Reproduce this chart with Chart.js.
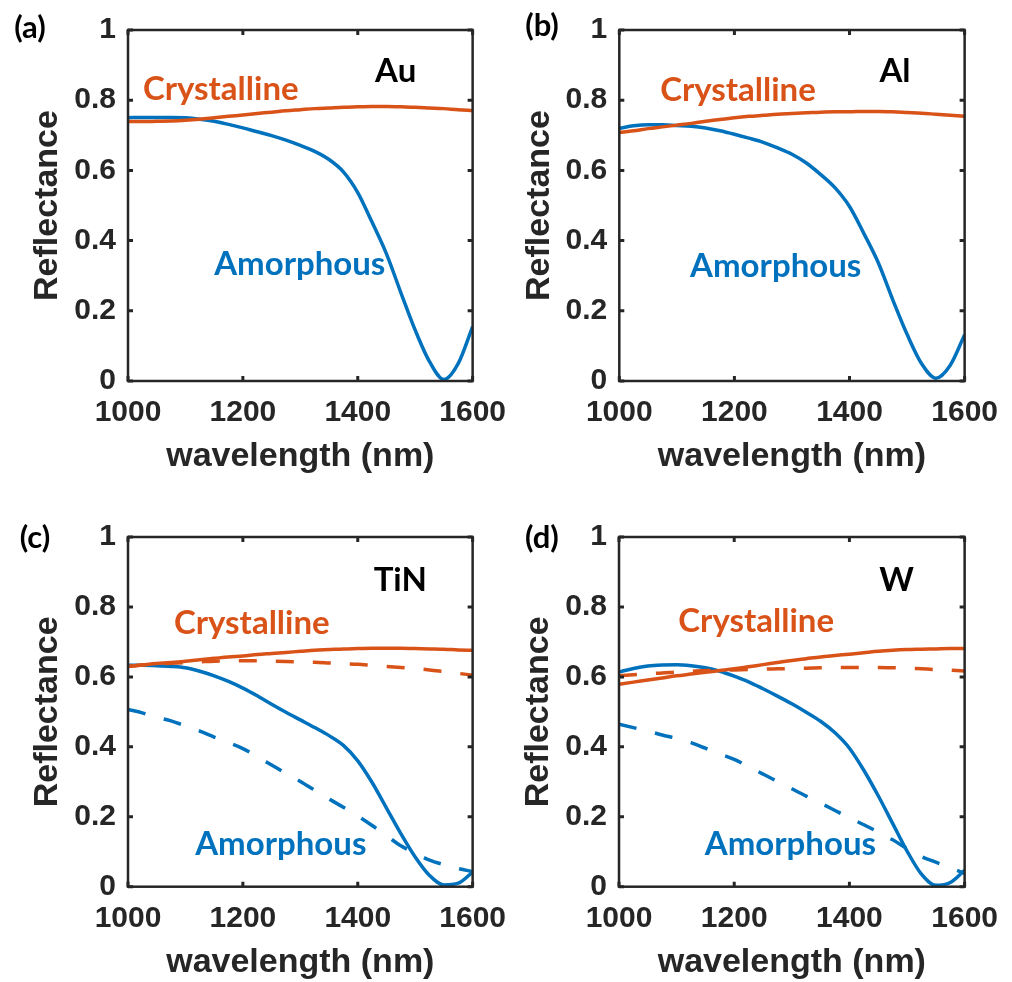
<!DOCTYPE html>
<html>
<head>
<meta charset="utf-8">
<script src="https://cdn.jsdelivr.net/npm/chart.js@4.4.1/dist/chart.umd.min.js"></script>
<style>
  body { margin: 0; background: #fff; width: 1012px; height: 982px; position: relative; overflow: hidden; }
  canvas { position: absolute; }
</style>
</head>
<body>
<canvas id="panelA" width="520" height="491" style="left:0px;top:0px"></canvas>
<canvas id="panelB" width="520" height="491" style="left:492px;top:0px"></canvas>
<canvas id="panelC" width="520" height="491" style="left:0px;top:507px"></canvas>
<canvas id="panelD" width="520" height="491" style="left:492px;top:507px"></canvas>
<script>
// wavelength grid, nm
let wavelength = [1000, 1025, 1050, 1075, 1100, 1125, 1150, 1175, 1200, 1225, 1250, 1275, 1300,
                  1325, 1350, 1375, 1400, 1425, 1450, 1475, 1500, 1525, 1550, 1575, 1600]

// reflectance, Au
let auAmorphous   = [0.750, 0.751, 0.751, 0.751, 0.750, 0.746, 0.740, 0.731, 0.721, 0.710, 0.699, 0.686, 0.671,
                     0.654, 0.631, 0.596, 0.537, 0.452, 0.362, 0.252, 0.145, 0.055, 0.004, 0.050, 0.155]
let auCrystalline = [0.739, 0.739, 0.740, 0.741, 0.743, 0.746, 0.750, 0.754, 0.758, 0.762, 0.766, 0.770, 0.773,
                     0.776, 0.778, 0.780, 0.781, 0.782, 0.782, 0.781, 0.780, 0.778, 0.776, 0.773, 0.771]

// reflectance, Al
let alAmorphous   = [0.720, 0.727, 0.730, 0.730, 0.728, 0.726, 0.721, 0.713, 0.703, 0.692, 0.680, 0.664, 0.646,
                     0.621, 0.588, 0.550, 0.497, 0.420, 0.337, 0.232, 0.133, 0.050, 0.008, 0.045, 0.132]
let alCrystalline = [0.708, 0.713, 0.719, 0.724, 0.729, 0.734, 0.740, 0.745, 0.750, 0.754, 0.757, 0.760, 0.762,
                     0.764, 0.766, 0.767, 0.767, 0.768, 0.768, 0.767, 0.765, 0.763, 0.760, 0.757, 0.754]

// reflectance, TiN (dashed = second set)
let tinAmorphous       = [0.633, 0.633, 0.632, 0.630, 0.626, 0.616, 0.603, 0.587, 0.568, 0.546, 0.522, 0.499, 0.477,
                          0.455, 0.432, 0.404, 0.360, 0.298, 0.225, 0.152, 0.085, 0.032, 0.005, 0.010, 0.042]
let tinAmorphousDash   = [0.507, 0.497, 0.485, 0.474, 0.460, 0.445, 0.428, 0.412, 0.395, 0.372, 0.348, 0.324, 0.301,
                          0.276, 0.251, 0.227, 0.202, 0.175, 0.146, 0.117, 0.096, 0.076, 0.063, 0.052, 0.043]
let tinCrystalline     = [0.630, 0.634, 0.638, 0.641, 0.645, 0.649, 0.653, 0.657, 0.660, 0.664, 0.667, 0.670, 0.673,
                          0.676, 0.678, 0.680, 0.681, 0.682, 0.682, 0.682, 0.681, 0.680, 0.679, 0.677, 0.676]
let tinCrystallineDash = [0.630, 0.634, 0.637, 0.639, 0.641, 0.643, 0.645, 0.646, 0.646, 0.646, 0.645, 0.644, 0.643,
                          0.642, 0.640, 0.638, 0.636, 0.633, 0.630, 0.627, 0.624, 0.620, 0.615, 0.610, 0.605]

// reflectance, W
let wAmorphous       = [0.614, 0.624, 0.631, 0.634, 0.635, 0.632, 0.626, 0.616, 0.602, 0.586, 0.566, 0.545, 0.523,
                        0.499, 0.473, 0.440, 0.396, 0.333, 0.260, 0.181, 0.102, 0.036, 0.004, 0.012, 0.047]
let wAmorphousDash   = [0.465, 0.455, 0.445, 0.434, 0.424, 0.412, 0.396, 0.380, 0.364, 0.343, 0.322, 0.301, 0.280,
                        0.259, 0.239, 0.218, 0.197, 0.177, 0.156, 0.134, 0.109, 0.086, 0.070, 0.054, 0.038]
let wCrystalline     = [0.579, 0.585, 0.591, 0.597, 0.603, 0.608, 0.613, 0.618, 0.623, 0.629, 0.635, 0.641, 0.647,
                        0.652, 0.657, 0.661, 0.665, 0.669, 0.673, 0.676, 0.678, 0.679, 0.680, 0.681, 0.681]
let wCrystallineDash = [0.603, 0.606, 0.609, 0.611, 0.614, 0.616, 0.618, 0.619, 0.620, 0.621, 0.622, 0.623, 0.624,
                        0.625, 0.626, 0.627, 0.627, 0.627, 0.627, 0.626, 0.625, 0.623, 0.621, 0.619, 0.617]

let xTicks = [1000, 1200, 1400, 1600]
let xTickLabels = ['1000', '1200', '1400', '1600']
let yTicks = [0, 0.2, 0.4, 0.6, 0.8, 1]
let yTickLabels = ['0', '0.2', '0.4', '0.6', '0.8', '1']

let blue = '#0072BD'
let orange = '#D95319'
let ink = '#262626'
let axisFont = 'Liberation Sans, Arial, sans-serif'
let noteFont = 'Lato, Calibri, sans-serif'

// box with inward ticks on all four sides
let frame = {
    id: 'frame',
    afterDatasetsDraw: function (chart) {
        let ctx = chart.ctx
        let a = chart.chartArea
        let x = chart.scales.x
        let y = chart.scales.y
        ctx.save()
        ctx.strokeStyle = ink
        ctx.lineWidth = 3
        ctx.beginPath()
        xTicks.forEach(function (v) {
            let px = x.getPixelForValue(v)
            ctx.moveTo(px, a.bottom); ctx.lineTo(px, a.bottom - 5)
            ctx.moveTo(px, a.top); ctx.lineTo(px, a.top + 5)
        })
        yTicks.forEach(function (v) {
            let py = y.getPixelForValue(v)
            ctx.moveTo(a.left, py); ctx.lineTo(a.left + 5, py)
            ctx.moveTo(a.right, py); ctx.lineTo(a.right - 5, py)
        })
        ctx.stroke()
        ctx.lineWidth = 2.5
        ctx.strokeRect(a.left, a.top, a.right - a.left, a.bottom - a.top)
        ctx.restore()
    }
}

let makePanel = function (id, box, tag, series, notes) {
    let canvas = document.getElementById(id)
    let W = canvas.width
    let H = canvas.height

    let labels = {
        id: 'labels',
        afterDraw: function (chart) {
            let ctx = chart.ctx
            let x = chart.scales.x
            let y = chart.scales.y
            ctx.save()
            ctx.textBaseline = 'middle'
            ctx.font = 'bold 31px ' + noteFont
            ctx.fillStyle = '#000'
            ctx.textAlign = 'center'
            ctx.fillText(tag.text, tag.x, tag.y)
            ctx.font = 'bold 33px ' + noteFont
            notes.forEach(function (n) {
                ctx.fillStyle = n.color
                ctx.textAlign = n.align
                ctx.fillText(n.text, x.getPixelForValue(n.x), y.getPixelForValue(n.y))
            })
            ctx.restore()
        }
    }

    let datasets = series.map(function (s) {
        return {
            data: wavelength.map(function (w, i) { return { x: w, y: s.values[i] } }),
            borderColor: s.color,
            borderWidth: 3.5,
            borderDash: s.dash ? [18, 19] : [],
            pointRadius: 0,
            cubicInterpolationMode: 'monotone',
            fill: false
        }
    })

    return new Chart(canvas, {
        type: 'line',
        data: { datasets: datasets },
        options: {
            responsive: false,
            animation: false,
            events: [],
            layout: { padding: { left: 0, top: box.top, right: W - box.right, bottom: 0 } },
            plugins: { legend: { display: false }, tooltip: { enabled: false } },
            scales: {
                x: {
                    type: 'linear',
                    min: 1000,
                    max: 1600,
                    afterBuildTicks: function (s) { s.ticks = xTicks.map(function (v) { return { value: v } }) },
                    afterFit: function (s) { s.height = H - box.bottom },
                    grid: { display: false, drawTicks: false },
                    border: { display: false },
                    ticks: {
                        padding: 14,
                        color: ink,
                        maxRotation: 0,
                        font: { family: axisFont, size: 30, weight: 'bold', lineHeight: 1.2 },
                        callback: function (v, i) { return xTickLabels[i] }
                    },
                    title: {
                        display: true,
                        text: 'wavelength (nm)',
                        color: ink,
                        font: { family: axisFont, size: 34, weight: 'bold', lineHeight: 1.2 },
                        padding: { top: 0, bottom: Math.max(0, H - box.bottom - 75.5 - 20.4) }
                    }
                },
                y: {
                    type: 'linear',
                    min: 0,
                    max: 1,
                    afterBuildTicks: function (s) { s.ticks = yTicks.map(function (v) { return { value: v } }) },
                    afterFit: function (s) { s.width = box.left },
                    grid: { display: false, drawTicks: false },
                    border: { display: false },
                    ticks: {
                        padding: 12,
                        color: ink,
                        font: { family: axisFont, size: 30, weight: 'bold', lineHeight: 1.2 },
                        callback: function (v, i) { return yTickLabels[i] }
                    },
                    title: {
                        display: true,
                        text: 'Reflectance',
                        color: ink,
                        font: { family: axisFont, size: 34, weight: 'bold', lineHeight: 1.2 },
                        padding: { top: box.left - 80 - 20.4, bottom: 0 }
                    }
                }
            }
        },
        plugins: [frame, labels]
    })
}

makePanel('panelA', { left: 128, top: 21, right: 481, bottom: 381 }, { text: '(a)', x: 30, y: 28 }, [
    { values: auCrystalline, color: orange },
    { values: auAmorphous, color: blue }
], [
    { text: 'Au', x: 1466, y: 0.883, color: '#000', align: 'center' },
    { text: 'Crystalline', x: 1026, y: 0.831, color: orange, align: 'left' },
    { text: 'Amorphous', x: 1150, y: 0.331, color: blue, align: 'left' }
])

makePanel('panelB', { left: 127.3, top: 21, right: 481.3, bottom: 381 }, { text: '(b)', x: 50, y: 26 }, [
    { values: alCrystalline, color: orange },
    { values: alAmorphous, color: blue }
], [
    { text: 'Al', x: 1479, y: 0.883, color: '#000', align: 'center' },
    { text: 'Crystalline', x: 1071, y: 0.828, color: orange, align: 'left' },
    { text: 'Amorphous', x: 1123, y: 0.328, color: blue, align: 'left' }
])

makePanel('panelC', { left: 128, top: 21.3, right: 480.5, bottom: 379.7 }, { text: '(c)', x: 35, y: 30.5 }, [
    { values: tinCrystalline, color: orange },
    { values: tinCrystallineDash, color: orange, dash: true },
    { values: tinAmorphous, color: blue },
    { values: tinAmorphousDash, color: blue, dash: true }
], [
    { text: 'TiN', x: 1474, y: 0.875, color: '#000', align: 'center' },
    { text: 'Crystalline', x: 1080, y: 0.753, color: orange, align: 'left' },
    { text: 'Amorphous', x: 1117, y: 0.121, color: blue, align: 'left' }
])

makePanel('panelD', { left: 127, top: 21.3, right: 480.7, bottom: 379.7 }, { text: '(d)', x: 50, y: 30.5 }, [
    { values: wCrystalline, color: orange },
    { values: wCrystallineDash, color: orange, dash: true },
    { values: wAmorphous, color: blue },
    { values: wAmorphousDash, color: blue, dash: true }
], [
    { text: 'W', x: 1482, y: 0.875, color: '#000', align: 'center' },
    { text: 'Crystalline', x: 1103, y: 0.758, color: orange, align: 'left' },
    { text: 'Amorphous', x: 1149, y: 0.121, color: blue, align: 'left' }
])
</script>
</body>
</html>
